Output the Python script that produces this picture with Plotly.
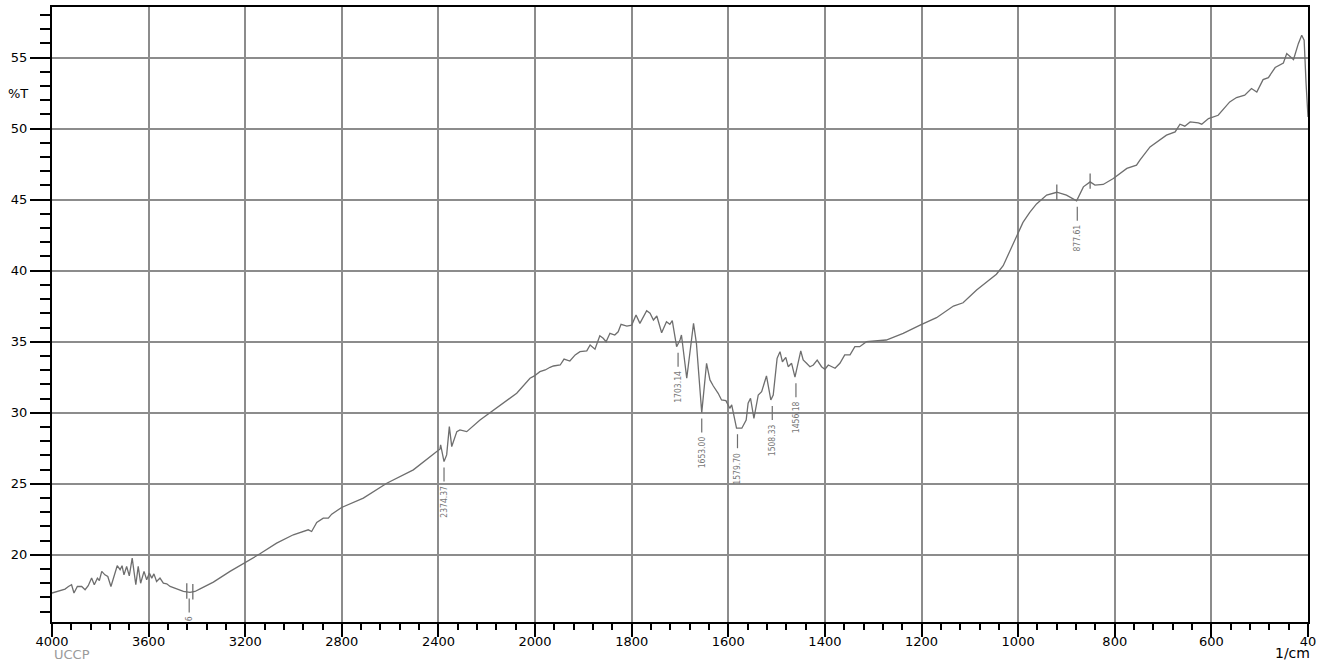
import numpy as np
import plotly.graph_objects as go

# ---- spectrum data (wavenumber in 1/cm, transmittance %T) ----
wavenumber = [4000, 3974, 3946, 3932, 3919, 3909, 3895, 3877, 3863, 3850, 3836, 3825, 3812, 3804,
              3794, 3781, 3769, 3756, 3743, 3730, 3718, 3710, 3702, 3691, 3680, 3668, 3653, 3643,
              3633, 3619, 3608, 3597, 3587, 3578, 3567, 3553, 3539, 3525, 3511, 3484, 3456, 3429,
              3408, 3387, 3332, 3263, 3201, 3139, 3070, 3001, 2939, 2925, 2904, 2877, 2856, 2842,
              2801, 2711, 2614, 2504, 2407, 2394, 2391, 2377, 2366, 2355, 2345, 2324, 2311, 2283,
              2228, 2145, 2076, 2021, 2003, 1990, 1979, 1969, 1962, 1948, 1940, 1928, 1917, 1907,
              1893, 1886, 1876, 1866, 1859, 1853, 1845, 1835, 1828, 1822, 1810, 1800, 1791, 1783,
              1769, 1762, 1755, 1748, 1738, 1728, 1721, 1716, 1712, 1707, 1700, 1697, 1686, 1679,
              1672, 1666, 1655, 1645, 1638, 1631, 1621, 1614, 1605, 1597, 1593, 1583, 1572, 1563,
              1559, 1554, 1547, 1538, 1531, 1521, 1512, 1507, 1499, 1493, 1488, 1481, 1476, 1469,
              1462, 1450, 1445, 1438, 1431, 1424, 1416, 1407, 1400, 1393, 1379, 1369, 1359, 1348,
              1338, 1328, 1314, 1273, 1238, 1203, 1169, 1134, 1114, 1086, 1062, 1045, 1031, 1010,
              1000, 990, 976, 962, 941, 920, 900, 893, 879, 865, 851, 841, 824, 803, 775, 755, 748,
              727, 707, 693, 675, 665, 655, 644, 627, 620, 606, 586, 562, 548, 531, 517, 506, 493,
              482, 468, 451, 444, 430, 420, 413, 408, 404, 400]
transmittance = [17.31, 17.42, 17.59, 17.77, 17.89, 17.31, 17.77, 17.77, 17.54, 17.82, 18.36, 17.89,
                 18.36, 18.19, 18.83, 18.59, 18.47, 17.77, 18.59, 19.23, 18.95, 19.23, 18.59, 19.18,
                 18.52, 19.77, 17.89, 19.18, 18.00, 18.83, 18.24, 18.71, 18.36, 18.66, 18.12, 18.36,
                 18.00, 17.96, 17.77, 17.59, 17.42, 17.35, 17.42, 17.60, 18.08, 18.83, 19.42, 20.07,
                 20.82, 21.41, 21.76, 21.64, 22.27, 22.58, 22.58, 22.86, 23.33, 23.99, 25.04, 25.98,
                 27.27, 27.43, 27.74, 26.56, 27.03, 29.02, 27.62, 28.67, 28.79, 28.67, 29.49, 30.52,
                 31.37, 32.43, 32.59, 32.89, 33.01, 33.20, 33.29, 33.36, 33.78, 33.64, 34.07, 34.30,
                 34.35, 34.77, 34.47, 35.42, 35.24, 35.00, 35.59, 35.47, 35.70, 36.22, 36.10, 36.17,
                 36.88, 36.29, 37.18, 37.00, 36.53, 36.81, 35.63, 36.41, 36.22, 36.48, 35.59, 34.65,
                 35.12, 35.47, 32.43, 34.54, 36.29, 34.89, 30.01, 33.48, 32.31, 31.88, 31.37, 30.90,
                 30.85, 30.31, 30.55, 28.91, 28.91, 29.49, 30.67, 31.02, 29.61, 31.25, 31.48, 32.59,
                 30.90, 31.25, 33.83, 34.30, 33.59, 33.90, 33.24, 33.48, 32.50, 34.35, 33.71, 33.48,
                 33.24, 33.36, 33.71, 33.24, 33.06, 33.36, 33.13, 33.48, 34.07, 34.07, 34.65, 34.65,
                 35.00, 35.12, 35.59, 36.17, 36.69, 37.51, 37.74, 38.64, 39.30, 39.75, 40.35, 41.90,
                 42.70, 43.40, 44.10, 44.70, 45.32, 45.52, 45.32, 45.20, 44.92, 45.90, 46.25, 46.02,
                 46.07, 46.49, 47.20, 47.43, 47.78, 48.71, 49.18, 49.54, 49.77, 50.31, 50.17, 50.47,
                 50.40, 50.31, 50.71, 50.94, 51.88, 52.19, 52.35, 52.82, 52.58, 53.45, 53.59, 54.30,
                 54.62, 55.28, 54.86, 55.98, 56.57, 56.22, 53.17, 50.82]

# labelled peaks
peak_labels = ["6", "2374.37", "1703.14", "1653.00", "1579.70", "1508.33", "1456.18", "877.61"]
peak_wn = [3432, 2377, 1704, 1655, 1581, 1509, 1460, 877.61]
peak_T = [17.35, 26.56, 34.65, 30.01, 28.91, 30.90, 32.50, 44.92]

# unlabelled "+" markers on the curve
mark_wn = [3442, 3417, 920, 851]
mark_T = [17.45, 17.40, 45.52, 46.30]

# axis ticks
x_tick_values = [4000, 3600, 3200, 2800, 2400, 2000, 1800, 1600, 1400, 1200, 1000, 800, 600, 400]
x_tick_text = ["4000", "3600", "3200", "2800", "2400", "2000", "1800", "1600", "1400", "1200",
               "1000", "800", "600", "40"]


def to_u(w):
    """Shimadzu-style x scale: 4000-2000 compressed 2x relative to 2000-400."""
    w = np.asarray(w, dtype=float)
    return np.where(w > 2000, 2000 + (w - 2000) / 2.0, w)


LINE = "#6e6e6e"
GRID = "#8c8c8c"
TXT = "DejaVu Sans, Liberation Sans, Arial, sans-serif"

fig = go.Figure()
fig.add_trace(go.Scatter(x=to_u(wavenumber), y=transmittance, mode="lines",
                         line=dict(color=LINE, width=1.3), hoverinfo="skip",
                         showlegend=False))
fig.add_trace(go.Scatter(x=to_u(mark_wn), y=mark_T, mode="markers",
                         marker=dict(symbol="line-ns", size=11,
                                     line=dict(color=LINE, width=1.3)),
                         hoverinfo="skip", showlegend=False))

shapes = [dict(type="line", xref="x", yref="paper", x0=2000, x1=2000, y0=0, y1=1,
               line=dict(color="black", width=1.6), layer="between")]
annotations = []
for lab, w, t in zip(peak_labels, to_u(peak_wn), peak_T):
    shapes.append(dict(type="line", xref="x", yref="y", ysizemode="pixel", yanchor=t,
                       x0=w, x1=w, y0=-6, y1=-20, line=dict(color=LINE, width=1.2),
                       layer="above"))
    annotations.append(dict(x=w, y=t, xref="x", yref="y", text=lab, showarrow=False,
                            textangle=-90, yanchor="top", xanchor="center", yshift=-22,
                            font=dict(family="Liberation Sans Narrow, DejaVu Sans Condensed, Arial Narrow, sans-serif",
                                      size=8.5, color="#777777")))

annotations += [
    dict(xref="paper", yref="y", x=0, y=52.5, text="%T", showarrow=False,
         xanchor="right", xshift=-22, font=dict(family=TXT, size=13, color="black")),
    dict(xref="paper", yref="paper", x=0, y=0, text="UCCP", showarrow=False,
         xanchor="left", yanchor="middle", yshift=-32,
         font=dict(family=TXT, size=13, color="#9a9a9a")),
    dict(xref="paper", yref="paper", x=1, y=0, text="1/cm", showarrow=False,
         xanchor="right", yanchor="middle", yshift=-31, xshift=4,
         font=dict(family=TXT, size=14, color="black")),
]

fig.update_layout(
    width=1319, height=661,
    margin=dict(l=52, r=11, t=7, b=39, autoexpand=False),
    paper_bgcolor="white", plot_bgcolor="white",
    shapes=shapes, annotations=annotations,
    xaxis=dict(range=[3000, 400], tickmode="array", tickvals=to_u(x_tick_values),
               ticktext=x_tick_text, ticks="outside", ticklen=13, tickwidth=2,
               tickcolor="black", showgrid=True, gridcolor=GRID, gridwidth=1.5,
               showline=True, linecolor="black", linewidth=2, mirror=True,
               zeroline=False, automargin=False, ticklabelstandoff=-7,
               tickfont=dict(family=TXT, size=13, color="black"),
               minor=dict(tickmode="linear", tick0=0, dtick=40, ticks="outside",
                          ticklen=6, tickwidth=2, tickcolor="black", showgrid=False)),
    yaxis=dict(range=[15.27, 58.56], tickmode="linear", tick0=0, dtick=5,
               ticks="outside", ticklen=20, tickwidth=2, tickcolor="black",
               showgrid=True, gridcolor=GRID, gridwidth=1.5,
               showline=True, linecolor="black", linewidth=2, mirror=True,
               zeroline=False, automargin=False,
               tickfont=dict(family=TXT, size=13, color="black"),
               minor=dict(tickmode="linear", tick0=0, dtick=1, ticks="outside",
                          ticklen=10, tickwidth=2, tickcolor="black", showgrid=False)),
)

fig.write_html("out.html", config={"displayModeBar": False},
               post_script="document.body.style.margin='0';"
                           "document.body.style.overflow='hidden';")
